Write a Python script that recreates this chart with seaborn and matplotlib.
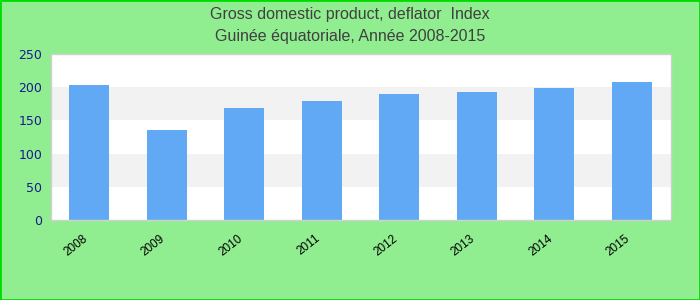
import matplotlib
matplotlib.use("Agg")
import matplotlib.pyplot as plt
import matplotlib.transforms as mtransforms
import seaborn as sns
import pandas as pd
from matplotlib.patches import Rectangle

years = ["2008", "2009", "2010", "2011", "2012", "2013", "2014", "2015"]
values = [203.5, 135.5, 168.5, 179.5, 190.0, 193.0, 199.0, 208.0]
yticks = [0, 50, 100, 150, 200, 250]

df = pd.DataFrame({"year": years, "value": values})

sns.set_theme(style="white")
plt.rcParams['font.family'] = ['Liberation Sans', 'DejaVu Sans']

fig = plt.figure(figsize=(7, 3), dpi=100, facecolor="#90ee90")
ax = fig.add_axes([50.5/700, 1-220/300, 620/700, 166/300])
ax.set_facecolor("white")

for lo, hi in [(50, 100), (150, 200)]:
    ax.axhspan(lo, hi, color="#f2f2f2", zorder=0, lw=0)

sns.barplot(data=df, x="year", y="value", color="#61a9f5", saturation=1,
            width=0.52, ax=ax, zorder=2, linewidth=0, edgecolor="none")

ax.set_ylim(0, 250)
ax.set_xlim(-0.5, len(years) - 0.5)
ax.set_yticks(yticks)
ax.set_yticklabels([str(t) for t in yticks], color="#1a1a8c", fontsize=9,
                   family=['DejaVu Sans'])
ax.set_xticks(range(len(years)))
ax.set_xticklabels(years, rotation=38, fontsize=8.5, color="black", ha="right",
                   rotation_mode="anchor")
ax.tick_params(axis="both", length=0, pad=6)
offset = mtransforms.ScaledTranslation(-7/100, -4/100, fig.dpi_scale_trans)
for lbl in ax.get_xticklabels():
    lbl.set_transform(lbl.get_transform() + offset)
ax.set_xlabel("")
ax.set_ylabel("")
for s in ax.spines.values():
    s.set_color("#d0d0d0")
    s.set_linewidth(1)

fig.text(0.5, 1-14/300, "Gross domestic product, deflator  Index", ha="center",
         va="center", fontsize=11.5, color="#404040")
fig.text(0.5, 1-37/300, "Guinée équatoriale, Année 2008-2015", ha="center",
         va="center", fontsize=11.5, color="#404040")

fig.patches.append(Rectangle((0, 0), 1, 1, transform=fig.transFigure,
                             fill=False, edgecolor="#00dd00", lw=2))

fig.savefig("out.png", dpi=100, facecolor=fig.get_facecolor())
